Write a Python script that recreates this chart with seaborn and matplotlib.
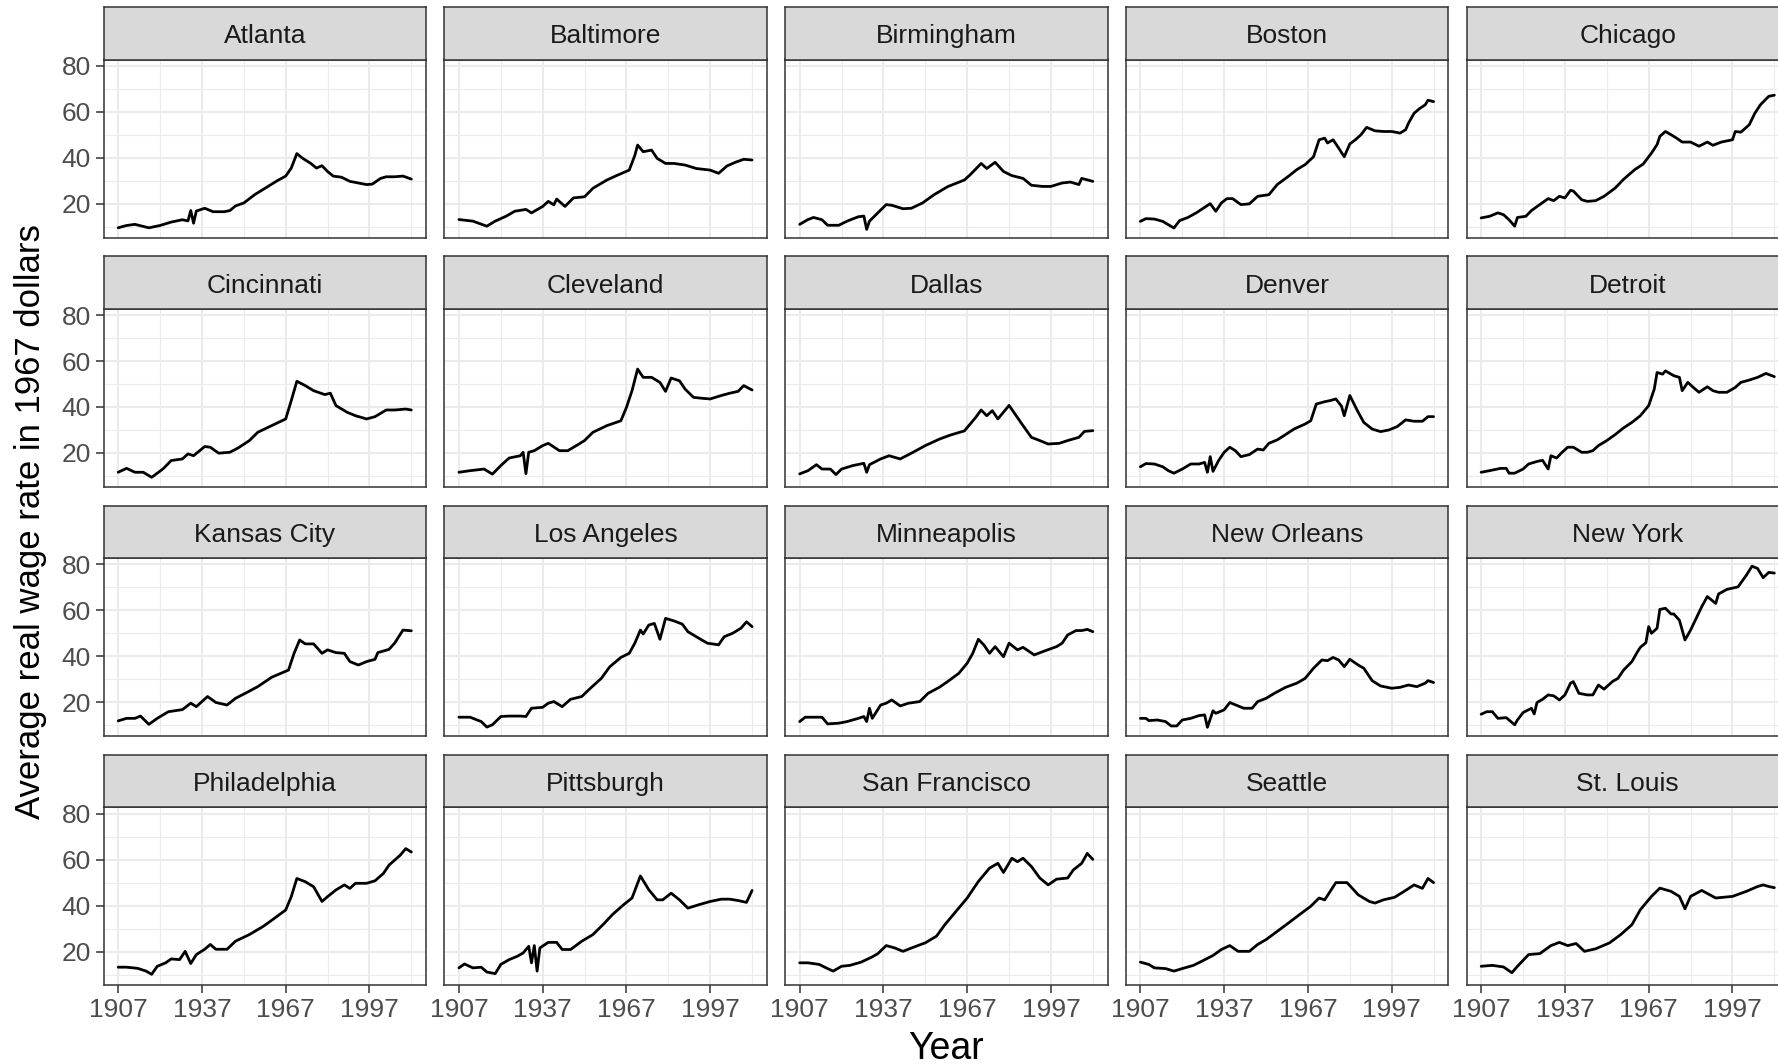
import numpy as np
import pandas as pd
import matplotlib
matplotlib.use('Agg')
import matplotlib.pyplot as plt
import seaborn as sns

# values (year, real wage in 1967 dollars)
atlanta_yr = [1907,1910,1913,1918,1922,1926,1930,1932,1933,1934,1935,1938,1941,1945,1947,1949,1952,1956,1960,1964,1967,1969,1971,1973,1976,1978,1980,1982,1984,1987,1990,1993,1996,1998,2001,2003,2006,2009,2012]
atlanta_wage = [9.5,10.5,11,9.5,10.5,12,13,12.5,17,11.5,16.8,18,16.5,16.5,17,19,20.3,24,27,30,32,35.5,41.8,39.8,37.5,35.5,36.5,34,32,31.5,29.7,29,28.3,28.5,31,31.7,31.7,32,30.7]

baltimore_yr = [1907,1912,1917,1920,1924,1927,1931,1933,1937,1939,1941,1942,1945,1948,1952,1955,1960,1964,1968,1970,1971,1973,1976,1978,1981,1984,1988,1992,1997,2000,2003,2006,2009,2012]
baltimore_wage = [13.1,12.4,10.2,12.4,14.6,16.7,17.5,16,18.8,21,19.5,22,18.8,22.5,23,26.7,30.3,32.5,34.6,41,45.5,42.6,43.3,39.7,37.5,37.5,36.8,35.3,34.6,33.2,36.4,38,39.3,39]

birmingham_yr = [1907,1910,1912,1915,1917,1921,1924,1928,1930,1931,1932,1935,1938,1940,1944,1947,1951,1955,1960,1966,1968,1972,1974,1977,1980,1983,1987,1990,1994,1997,2001,2004,2007,2008,2012]
birmingham_wage = [11,13.1,14,13,10.6,10.6,12.4,14.3,14.6,8.8,12.4,16,19.6,19.3,17.8,18,20.3,23.8,27.4,30.3,32.5,37.5,35.3,38,34,32.2,31,28,27.5,27.5,29,29.4,28.3,31,29.7]

boston_yr = [1907,1909,1912,1915,1919,1921,1924,1927,1930,1932,1934,1936,1938,1940,1943,1946,1949,1953,1956,1960,1963,1966,1969,1971,1973,1974,1976,1978,1980,1982,1984,1986,1988,1991,1994,1997,2000,2002,2003,2005,2007,2009,2010,2012]
boston_wage = [12.3,13.5,13.3,12.3,9.4,12.6,14,16,18.4,20,16.7,20.3,22.2,22.2,19.6,19.9,23.2,23.9,28.3,31.9,34.8,37,40.4,47.8,48.5,46.4,47.8,44.2,40.4,46,47.8,50,53.2,51.7,51.4,51.4,50.7,52.2,55,59.3,61.4,63,65,64.4]

chicago_yr = [1907,1910,1913,1915,1917,1919,1920,1923,1925,1928,1931,1933,1935,1937,1939,1940,1943,1945,1948,1951,1955,1958,1962,1965,1968,1970,1971,1973,1975,1977,1979,1982,1985,1988,1990,1993,1997,1998,2000,2003,2005,2007,2010,2012]
chicago_wage = [13.8,14.5,16,15.2,13,10.2,14,14.5,17,19.6,22.2,21.3,23.2,22.5,25.8,25.5,21.7,21,21.3,23.2,26.8,30.6,34.8,37.2,42,45.7,49.3,51.4,50,48.5,46.8,46.8,45,46.8,45.4,46.8,47.8,51.4,51.1,54.3,59.3,63,66.7,67.2]

cincinnati_yr = [1907,1910,1913,1916,1919,1923,1926,1930,1932,1934,1938,1940,1943,1947,1950,1954,1957,1962,1967,1969,1971,1974,1977,1981,1983,1985,1989,1992,1996,1999,2003,2006,2010,2012]
cincinnati_wage = [11.6,13.3,11.6,11.6,9.4,13,16.7,17.4,19.6,18.8,22.8,22.5,19.9,20.3,22.2,25.4,29,31.9,34.8,42.8,51.2,49.3,47.1,45.4,46,40.6,37.7,36.2,34.8,35.8,38.7,38.7,39.1,38.7]

cleveland_yr = [1907,1911,1916,1919,1922,1925,1929,1930,1931,1932,1934,1937,1939,1943,1946,1950,1952,1955,1960,1965,1967,1969,1971,1973,1976,1979,1981,1983,1986,1988,1991,1994,1997,2001,2004,2007,2009,2012]
cleveland_wage = [11.6,12.3,13,10.8,14.5,17.8,18.8,20.3,11,20.3,21,23.2,24.2,21,21,23.9,25.4,29,31.9,34,39.8,47.1,56.5,52.9,52.9,50.7,46.8,52.6,51.4,47.8,44.2,43.8,43.5,45,46,46.8,49.3,47.4]

dallas_yr = [1907,1910,1913,1915,1918,1920,1922,1926,1930,1931,1932,1936,1939,1943,1947,1952,1957,1961,1966,1970,1972,1974,1976,1978,1982,1985,1987,1990,1993,1996,2000,2003,2007,2009,2012]
dallas_wage = [10.9,12.3,14.9,13,13,10.6,13,14.5,15.5,11.6,14.9,17.4,18.8,17.4,19.9,23.2,26,27.8,29.6,35.4,38.7,36.2,38.4,34.8,40.7,35.4,31.9,26.8,25.4,23.9,24.2,25.4,26.8,29.4,29.7]

denver_yr = [1907,1909,1912,1915,1917,1919,1922,1925,1928,1930,1931,1932,1933,1935,1937,1939,1941,1943,1946,1949,1951,1953,1956,1959,1962,1966,1968,1970,1973,1975,1977,1979,1980,1982,1985,1987,1990,1993,1996,1999,2002,2005,2008,2010,2012]
denver_wage = [14,15.4,15.2,14,12.3,11.2,13,15.2,15.2,15.9,11.6,18.4,12,16.7,20.3,22.5,21,18.4,19.3,21.7,21.3,24.2,25.7,28,30.4,32.6,34,41.3,42.3,42.8,43.5,40.4,36.2,45,37.7,33.3,30.4,29.3,30,31.5,34.4,33.8,33.8,35.8,35.8]

detroit_yr = [1907,1910,1914,1916,1917,1919,1922,1924,1927,1929,1931,1932,1934,1936,1938,1940,1943,1945,1947,1949,1952,1955,1958,1961,1964,1967,1969,1970,1972,1973,1976,1978,1979,1981,1983,1985,1988,1990,1992,1995,1998,2000,2003,2006,2009,2012]
detroit_wage = [11.6,12.3,13.3,13.3,11.2,11.2,13,15.2,16.3,16.8,13,18.8,17.8,20.3,22.5,22.5,20.3,20.3,21,23.2,25.4,28,30.9,33.3,36.2,40.6,47.8,55,54.3,55.7,53.6,52.9,47.1,50.7,48.5,46.4,48.8,47.1,46.4,46.4,48.5,50.7,51.7,52.9,54.6,53.2]

kansas_city_yr = [1907,1910,1913,1915,1918,1921,1925,1930,1933,1935,1939,1942,1946,1949,1953,1957,1962,1968,1970,1972,1974,1977,1980,1982,1985,1988,1990,1993,1996,1999,2000,2004,2006,2009,2012]
kansas_city_wage = [11.9,13,13,14,10.4,13,15.9,16.8,19.6,18.1,22.5,19.9,18.8,21.7,24.2,26.8,30.9,34,41.3,47.1,45.4,45.4,41.3,42.8,41.6,41.3,37.7,36.2,37.7,38.7,41.6,43,45.7,51.4,51.1]

los_angeles_yr = [1907,1911,1915,1917,1919,1922,1925,1929,1931,1933,1937,1939,1941,1944,1947,1951,1954,1958,1961,1965,1968,1970,1972,1973,1975,1977,1979,1981,1984,1987,1989,1993,1996,2000,2002,2005,2008,2010,2012]
los_angeles_wage = [13.5,13.5,11.6,9.2,10.2,13.8,14,14,13.8,17.4,17.8,19.6,20.3,18.1,21.3,22.5,26,30.4,35.4,39.5,41.3,45.7,51.4,49.7,53.6,54.3,47.4,56.5,55.4,54,50.7,47.8,45.7,45,48.5,50,52.2,55,52.9]

minneapolis_yr = [1907,1909,1911,1915,1917,1921,1924,1928,1930,1931,1932,1933,1936,1938,1940,1943,1946,1950,1953,1957,1960,1964,1967,1969,1971,1973,1975,1977,1980,1982,1985,1987,1991,1994,1999,2001,2003,2006,2008,2010,2012]
minneapolis_wage = [11.6,13.5,13.5,13.5,10.6,10.9,11.6,13,13.8,11.6,17.4,13,18.8,19.6,21,18.4,19.6,20.3,23.9,26.5,29,32.6,37,41.3,47.4,44.9,41.3,44.2,39.8,45.7,42.8,43.9,40.6,42,44.2,45.7,49.3,51.2,51.2,51.7,50.7]

new_orleans_yr = [1907,1909,1910,1913,1916,1918,1920,1922,1925,1928,1930,1931,1933,1934,1937,1939,1942,1944,1947,1949,1952,1955,1959,1963,1966,1969,1972,1974,1976,1978,1980,1982,1985,1987,1990,1993,1997,2000,2003,2006,2009,2010,2012]
new_orleans_wage = [13,13,12,12.3,11.6,9.7,9.7,12.3,13,14.2,14.5,9.1,16.3,15.2,16.7,19.9,18.4,17.4,17.4,20.3,21.7,23.9,26.5,28.3,30.4,34.8,38.4,38.1,39.5,38.4,35.5,38.7,36.2,34.8,29.4,27.1,26.1,26.5,27.5,26.8,28.3,29.4,28.6]

new_york_yr = [1907,1909,1911,1913,1916,1919,1920,1922,1925,1926,1927,1929,1931,1933,1935,1937,1939,1940,1942,1945,1947,1949,1951,1954,1956,1958,1961,1963,1964,1966,1967,1968,1970,1971,1973,1975,1976,1978,1980,1982,1984,1986,1988,1991,1992,1995,1999,2002,2004,2006,2008,2010,2012]
new_york_wage = [14.8,15.9,15.9,13,13.3,10.2,12.3,15.5,17.4,14.9,19.9,21.3,23.2,22.8,21,23.2,28.3,29,23.9,23.2,23.2,27.5,25.7,29,30.4,34,37.7,42,43.9,45.9,52.9,50,52.2,60.4,60.9,58.4,58.4,55.7,47.1,51.4,56.5,61.6,66,63,67.1,69.1,70.2,75.3,79.2,78.2,74.2,76.5,76.2]

philadelphia_yr = [1907,1910,1914,1917,1919,1921,1924,1926,1929,1931,1933,1935,1938,1940,1942,1946,1949,1954,1959,1963,1967,1969,1971,1974,1977,1980,1982,1985,1988,1990,1992,1996,1999,2002,2004,2008,2010,2012]
philadelphia_wage = [13.2,13.2,12.7,11.5,10.1,13.6,15.1,16.8,16.5,20.1,14.8,18.7,21,23.1,21,21,24.5,27.4,31,34.5,38.1,43.9,51.8,50.4,48.2,41.8,43.9,46.8,49,47.5,49.7,49.7,50.8,54,57.6,61.9,64.8,63.3]

pittsburgh_yr = [1907,1909,1912,1915,1917,1920,1922,1925,1928,1930,1932,1933,1934,1935,1936,1939,1942,1944,1947,1951,1955,1959,1962,1966,1969,1972,1975,1978,1980,1983,1986,1989,1993,1997,2001,2004,2007,2010,2012]
pittsburgh_wage = [12.9,14.6,12.9,13.2,11.1,10.4,14.4,16.5,18,19.4,22.3,15.1,22.6,11.5,21.6,24,24,20.9,20.9,24.5,27.4,32.2,36.1,40.4,43.3,52.9,46.9,42.5,42.5,45.4,42.5,38.9,40.4,41.8,42.8,42.8,42.2,41.4,46.6]

san_francisco_yr = [1907,1910,1914,1917,1919,1922,1925,1929,1933,1935,1938,1941,1944,1948,1952,1956,1959,1963,1967,1971,1975,1978,1980,1983,1985,1987,1990,1993,1996,1999,2003,2005,2008,2010,2012]
san_francisco_wage = [15.1,15.1,14.4,12.6,11.5,13.6,14,15.4,17.7,19.1,22.6,21.6,20.1,22,23.8,26.7,31.7,37.5,43.3,50.5,56.3,58.4,54.4,60.6,59.1,60.6,57,52,49,51.5,52,55.5,58.4,62.7,60.1]

seattle_yr = [1907,1910,1912,1916,1919,1922,1926,1929,1933,1936,1939,1942,1946,1949,1952,1956,1960,1964,1968,1971,1973,1977,1981,1985,1989,1991,1994,1998,2002,2005,2008,2010,2012]
seattle_wage = [15.4,14.4,12.9,12.6,11.5,12.6,14,15.8,18.3,20.9,22.6,20.1,20.1,23.1,25.2,28.8,32.4,36.1,39.7,43.3,42.5,50,50,44.7,41.8,41.1,42.5,43.6,46.6,49,47.5,51.8,50]

st_louis_yr = [1907,1911,1915,1918,1920,1924,1928,1932,1935,1938,1941,1944,1948,1953,1957,1961,1964,1968,1971,1975,1978,1980,1982,1986,1991,1997,2002,2006,2008,2010,2012]
st_louis_wage = [13.6,14,13.3,10.8,13.6,18.7,19.1,22.6,24,22.6,23.5,20.1,21.2,23.8,27.4,31.7,38.2,44,47.6,46.2,44,38.6,44,46.6,43.3,44,46.2,48.3,49,48.3,47.8]

cities = ['Atlanta', 'Baltimore', 'Birmingham', 'Boston', 'Chicago',
          'Cincinnati', 'Cleveland', 'Dallas', 'Denver', 'Detroit',
          'Kansas City', 'Los Angeles', 'Minneapolis', 'New Orleans', 'New York',
          'Philadelphia', 'Pittsburgh', 'San Francisco', 'Seattle', 'St. Louis']
series = [(atlanta_yr, atlanta_wage), (baltimore_yr, baltimore_wage),
          (birmingham_yr, birmingham_wage), (boston_yr, boston_wage),
          (chicago_yr, chicago_wage), (cincinnati_yr, cincinnati_wage),
          (cleveland_yr, cleveland_wage), (dallas_yr, dallas_wage),
          (denver_yr, denver_wage), (detroit_yr, detroit_wage),
          (kansas_city_yr, kansas_city_wage), (los_angeles_yr, los_angeles_wage),
          (minneapolis_yr, minneapolis_wage), (new_orleans_yr, new_orleans_wage),
          (new_york_yr, new_york_wage), (philadelphia_yr, philadelphia_wage),
          (pittsburgh_yr, pittsburgh_wage), (san_francisco_yr, san_francisco_wage),
          (seattle_yr, seattle_wage), (st_louis_yr, st_louis_wage)]

df = pd.concat([pd.DataFrame({'city': c, 'year': yr, 'wage': w})
                for c, (yr, w) in zip(cities, series)], ignore_index=True)

sns.set_theme(style='white')
plt.rcParams['font.family'] = ['Liberation Sans', 'DejaVu Sans']

W, H = 1778, 1064
fig = plt.figure(figsize=(W / 100, H / 100), dpi=100)

# panel layout in pixels
x0, xpitch, pw = 103.5, 340.75, 322.5
y0, ypitch, ph, sh = 59.5, 249.3, 178, 52.5

# ggplot-like 5% expansion of the data range
xmin, xmax = df['year'].min(), df['year'].max()
ymin, ymax = df['wage'].min(), df['wage'].max()
xpad = 0.05 * (xmax - xmin)
ypad = 0.05 * (ymax - ymin)

dark = '#333333'
gridc = '#EBEBEB'

for i, city in enumerate(cities):
    r, c = divmod(i, 5)
    left = x0 + c * xpitch
    top = y0 + r * ypitch
    ax = fig.add_axes([left / W, 1 - (top + ph) / H, pw / W, ph / H])
    sub = df[df['city'] == city]
    sns.lineplot(data=sub, x='year', y='wage', ax=ax, color='black',
                 linewidth=2.0, estimator=None)
    ax.set_xlim(xmin - xpad, xmax + xpad)
    ax.set_ylim(ymin - ypad, ymax + ypad)
    ax.set_xticks([1907, 1937, 1967, 1997])
    ax.set_xticks([1922, 1952, 1982, 2012], minor=True)
    ax.set_yticks([20, 40, 60, 80])
    ax.set_yticks([10, 30, 50, 70], minor=True)
    ax.set_axisbelow(True)
    ax.grid(which='major', color=gridc, linewidth=1.5)
    ax.grid(which='minor', color=gridc, linewidth=0.8)
    ax.set_facecolor('white')
    ax.set_xlabel('')
    ax.set_ylabel('')
    for s in ax.spines.values():
        s.set_color(dark)
        s.set_linewidth(1.1)
        s.set_visible(True)
    ax.tick_params(which='major', length=6, width=1.1, color=dark,
                   labelsize=19, labelcolor='#4D4D4D', pad=3,
                   left=True, bottom=True)
    ax.tick_params(which='minor', length=0)
    if c != 0:
        ax.tick_params(axis='y', left=False, labelleft=False)
    if r != 3:
        ax.tick_params(axis='x', bottom=False, labelbottom=False)

    # facet strip
    sax = fig.add_axes([left / W, 1 - top / H, pw / W, sh / H])
    sax.set_facecolor('#D9D9D9')
    sax.set_xticks([])
    sax.set_yticks([])
    for s in sax.spines.values():
        s.set_color(dark)
        s.set_linewidth(1.1)
        s.set_visible(True)
    sax.text(0.5, 0.44, city, transform=sax.transAxes, ha='center',
             va='center', fontsize=19, color='#1A1A1A')

fig.text(946 / W, 1 - 1049 / H, 'Year', ha='center', va='center',
         fontsize=27, color='black')
fig.text(31 / W, 1 - 522 / H, 'Average real wage rate in 1967 dollars',
         ha='center', va='center', rotation=90, fontsize=25, color='black')

fig.savefig('out.png', dpi=100)
